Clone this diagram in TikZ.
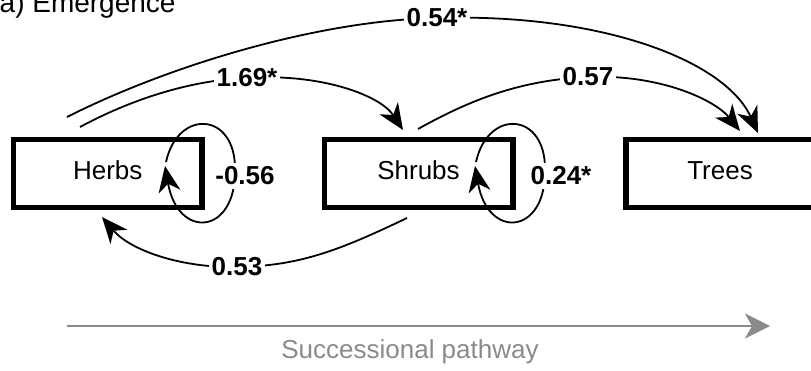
\documentclass[tikz,border=0pt]{standalone}
\usepackage{fontspec}
\setmainfont{Liberation Sans}
\usetikzlibrary{arrows.meta}
\pgfdeclarelayer{bg}
\pgfsetlayers{bg,main}
\definecolor{pathgray}{HTML}{8A8A8A}
\begin{document}
\begin{tikzpicture}[x=1pt,y=-1pt,
  box/.style={draw,line width=5.5pt,minimum width=188.5pt,minimum height=68pt,inner sep=0pt,
    font=\fontsize{26}{31}\selectfont,text height=18.6pt,text depth=7pt},
  lab/.style={fill=white,inner xsep=3pt,inner ysep=4pt,font=\fontsize{26}{31}\selectfont\bfseries},
  conn/.style={line width=1.8pt,-{Stealth[length=26pt,width=22pt,inset=8pt]}},
  pathline/.style={pathgray,line width=2pt,-{Stealth[length=25pt,width=25pt,inset=7pt]}},
]
\useasboundingbox (0,0) rectangle (811,370);

% title
\node[anchor=base west,inner sep=0pt,font=\fontsize{28}{33}\selectfont] (title) at (-0.5,12) {a) Emergence};

% boxes
\node[box] (herbs) at (107.75,173.5) {Herbs};
\node[box] (shrubs) at (418.5,173.5) {Shrubs};
\node[box] (trees) at (720,173.5) {Trees};

% labels
\node[lab] (l054) at (437,18) {0.54*};
\node[lab] (l169) at (247,78) {1.69*};
\node[lab] (l057) at (588,77) {0.57};
\node[lab] (l056) at (245,176) {-0.56};
\node[lab] (l024) at (561,176) {0.24*};
\node[lab] (l053) at (237,267) {0.53};

% free ends
\coordinate (a1) at (67,117);
\coordinate (a2) at (758,133);
\coordinate (b1) at (80,127);
\coordinate (b2) at (403,130);
\coordinate (c1) at (418,129);
\coordinate (c2) at (740,131);
\coordinate (d1) at (407,218);
\coordinate (d2) at (102,217);
\coordinate (h1) at (166,162);
\coordinate (h2) at (235,170);
\coordinate (h3) at (165,166);
\coordinate (s1) at (476,162);
\coordinate (s2) at (545,170);
\coordinate (s3) at (475,166);

\begin{pgfonlayer}{bg}
\draw[conn] (a1) .. controls (170,65) and (320,20) .. (l054.center) .. controls (600,13) and (725,60) .. (a2);
\draw[conn] (b1) .. controls (130,100) and (190,80) .. (l169.center) .. controls (320,73) and (380,95) .. (b2);
\draw[conn] (c1) .. controls (470,100) and (520,80) .. (l057.center) .. controls (660,74) and (715,100) .. (c2);
\draw[conn] (d1) .. controls (340,250) and (300,266) .. (l053.center) .. controls (180,268) and (130,250) .. (d2);
\draw[conn] (h1) .. controls (178,108) and (236,112) .. (h2) .. controls (236,235) and (178,240) .. (h3);
\draw[conn] (s1) .. controls (488,108) and (546,112) .. (s2) .. controls (546,235) and (488,240) .. (s3);
\end{pgfonlayer}

% successional pathway
\coordinate (p1) at (67,326);
\coordinate (p2) at (770,326);
\draw[pathline] (p1) -- (p2);
\node[text=pathgray,font=\fontsize{26}{31}\selectfont] (ptext) at (410,352) {Successional pathway};
\end{tikzpicture}
\end{document}
